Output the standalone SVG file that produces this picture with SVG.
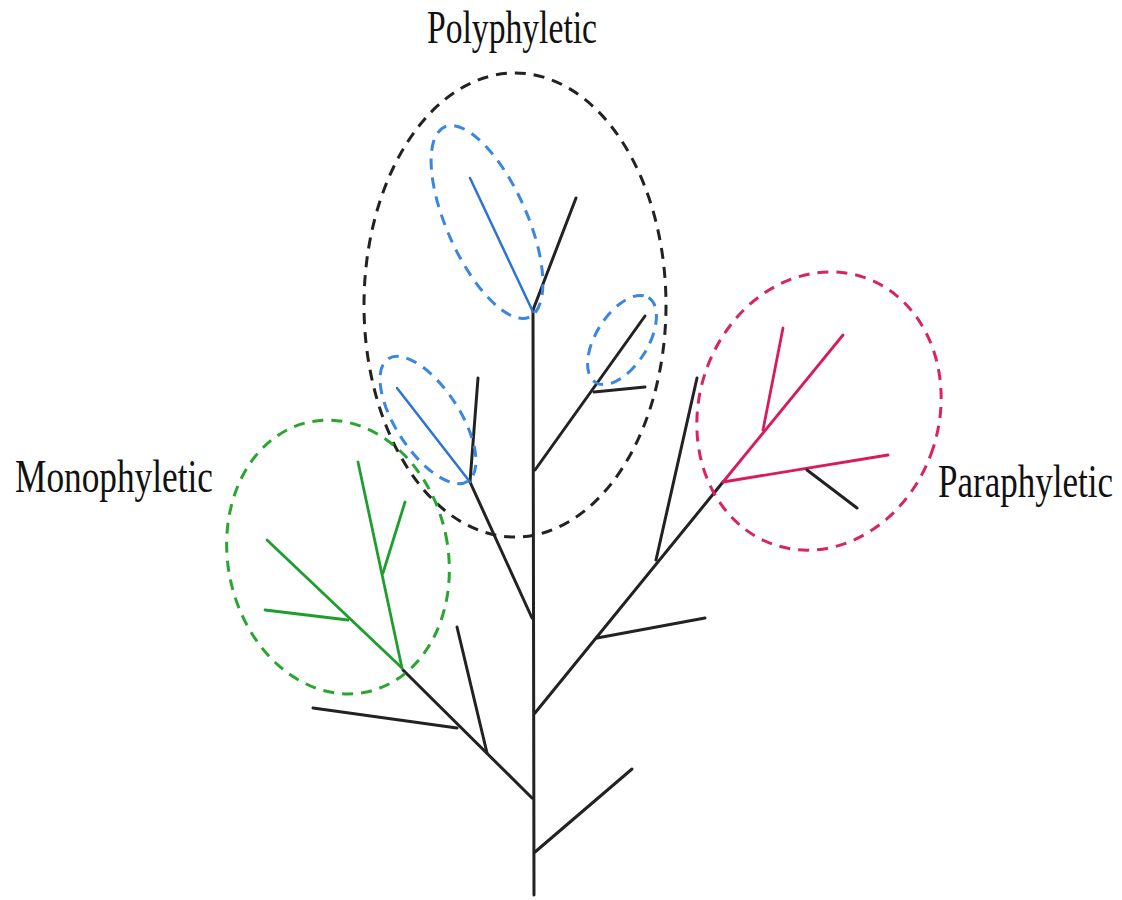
<svg xmlns="http://www.w3.org/2000/svg" width="1122" height="900" viewBox="0 0 1122 900">
<style>
.br{stroke:#222;stroke-width:3;stroke-linecap:round;fill:none}
.bl{stroke:#2f72d6;stroke-width:2.5;stroke-linecap:round;fill:none}
.gr{stroke:#1e9e2c;stroke-width:2.8;stroke-linecap:round;fill:none}
.rd{stroke:#d81b5e;stroke-width:2.8;stroke-linecap:round;fill:none}
.dash{fill:none;stroke-width:3;stroke-dasharray:11 8}
.lbl{font-family:"Liberation Serif","Times New Roman",serif;font-size:34px;fill:#111}
</style>
<rect width="1122" height="900" fill="#fff"/>
<g id="connectors">
  <!-- trunk -->
  <line class="br" x1="534" y1="895" x2="533" y2="310"/>
  <line class="br" x1="533" y1="310" x2="576" y2="198"/>
  <!-- right upper branch -->
  <line class="br" x1="535" y1="470" x2="645" y2="316"/>
  <line class="br" x1="594" y1="392" x2="645" y2="387"/>
  <!-- left upper branch -->
  <line class="br" x1="532" y1="618" x2="470" y2="482"/>
  <line class="br" x1="470" y1="482" x2="478" y2="378"/>
  <!-- left lower branch -->
  <line class="br" x1="532" y1="798" x2="403" y2="670"/>
  <line class="br" x1="457" y1="728" x2="313" y2="708"/>
  <line class="br" x1="487" y1="753" x2="457" y2="627"/>
  <!-- right middle branch -->
  <line class="br" x1="535" y1="713" x2="723" y2="482"/>
  <line class="br" x1="597" y1="638" x2="705" y2="618"/>
  <line class="br" x1="656" y1="560" x2="697" y2="378"/>
  <!-- bottom right branch -->
  <line class="br" x1="535" y1="852" x2="632" y2="769"/>
  <!-- blue lines -->
  <line class="bl" x1="533" y1="312" x2="470" y2="178"/>
  <line class="bl" x1="470" y1="482" x2="397" y2="388"/>
  <!-- green lines -->
  <line class="gr" x1="402" y1="668" x2="358" y2="462"/>
  <line class="gr" x1="383" y1="573" x2="405" y2="502"/>
  <line class="gr" x1="402" y1="668" x2="267" y2="540"/>
  <line class="gr" x1="348" y1="620" x2="265" y2="610"/>
  <!-- red lines -->
  <line class="rd" x1="723" y1="482" x2="843" y2="335"/>
  <line class="rd" x1="763" y1="430" x2="783" y2="328"/>
  <line class="rd" x1="723" y1="482" x2="888" y2="455"/>
  <line class="br" x1="807" y1="470" x2="857" y2="508"/>
</g>
<g id="polyphyletic">
  <ellipse class="dash" stroke="#222" cx="515" cy="305" rx="151" ry="232"/>
  <ellipse class="dash" stroke="#3a86e0" cx="487" cy="222" rx="104" ry="40" transform="rotate(66 487 222)"/>
  <ellipse class="dash" stroke="#3a86e0" cx="622" cy="340" rx="50" ry="26" transform="rotate(-58 622 340)"/>
  <ellipse class="dash" stroke="#3a86e0" cx="428" cy="420" rx="73" ry="32" transform="rotate(57 428 420)"/>
  <text class="lbl" transform="translate(427,43) scale(1,1.38)" textLength="170" lengthAdjust="spacingAndGlyphs">Polyphyletic</text>
</g>
<g id="monophyletic">
  <ellipse class="dash" stroke="#2aa52f" cx="338" cy="557" rx="110" ry="138" transform="rotate(-12 338 557)"/>
  <text class="lbl" transform="translate(15,492) scale(1,1.38)" textLength="198" lengthAdjust="spacingAndGlyphs">Monophyletic</text>
</g>
<g id="paraphyletic">
  <ellipse class="dash" stroke="#d8245f" cx="819" cy="411" rx="120" ry="141" transform="rotate(18 819 411)"/>
  <text class="lbl" transform="translate(938,497) scale(1,1.38)" textLength="175" lengthAdjust="spacingAndGlyphs">Paraphyletic</text>
</g>
</svg>
